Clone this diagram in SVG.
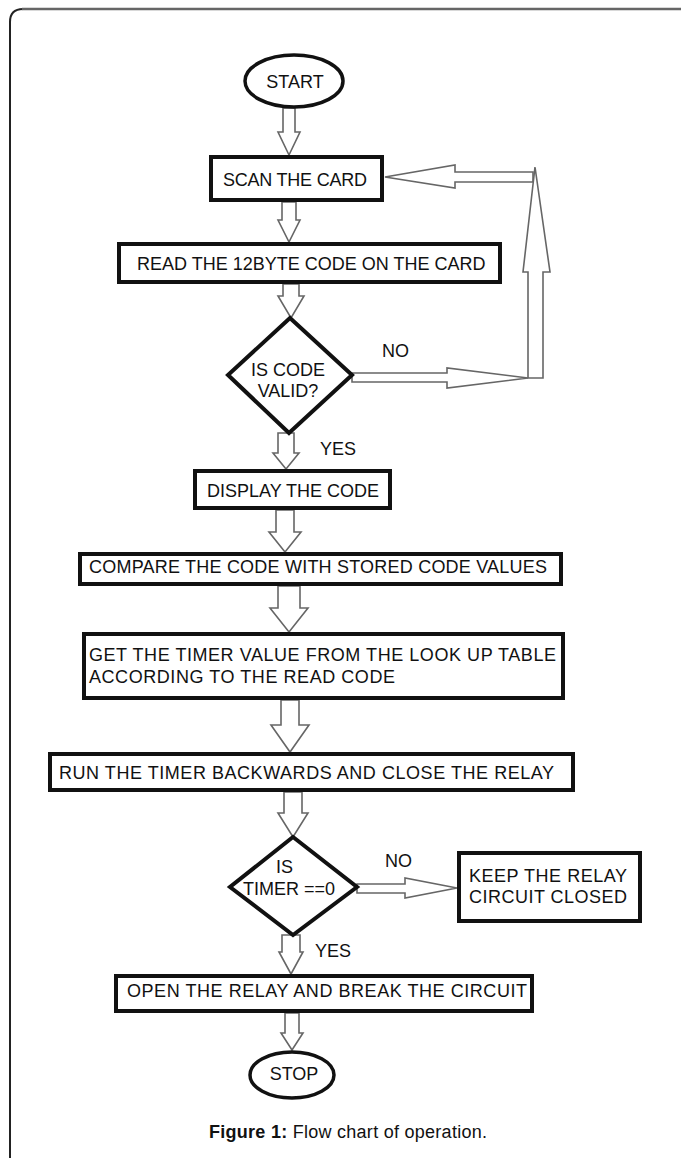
<svg xmlns="http://www.w3.org/2000/svg" width="681" height="1158" viewBox="0 0 681 1158">
<style>
.box{fill:#fff;stroke:#111;stroke-width:4}
.term{fill:#fff;stroke:#111;stroke-width:3.5}
.arr{fill:#fff;stroke:#666;stroke-width:1.6;stroke-linejoin:miter}
.t{font-family:"Liberation Sans",Arial,sans-serif;font-size:18px;fill:#111}
.c{text-anchor:middle}
</style>
<rect width="681" height="1158" fill="#fff"/>
<g id="frame">
<path d="M10,1158 V22 Q10,9 23,9" fill="none" stroke="#222" stroke-width="2"/>
<path d="M22,9 H681" fill="none" stroke="#666" stroke-width="2.5"/>
</g>
<g id="connectors">
<polygon class="arr" points="283,108 295,108 295,132 300,132 289,155 278,132 283,132"/>
<polygon class="arr" points="282,202 296,202 296,220 300,220 289,242 278,220 282,220"/>
<polygon class="arr" points="283,284 299,284 299,296 304,296 291,318 278,296 283,296"/>
<polygon class="arr" points="278,433 294,433 294,453 299,453 286,469 273,453 278,453"/>
<polygon class="arr" points="276,510 294,510 294,532 301,532 285,552 269,532 276,532"/>
<polygon class="arr" points="278,586 300,586 300,608 308,608 289,632 270,608 278,608"/>
<polygon class="arr" points="281,700 299,700 299,725 309,725 290,752 271,725 281,725"/>
<polygon class="arr" points="284,792 302,792 302,813 308,813 293,837 278,813 284,813"/>
<polygon class="arr" points="282,935 300,935 300,952 303,952 291,974 279,952 282,952"/>
<polygon class="arr" points="285,1013 299,1013 299,1033 303,1033 292,1050 281,1033 285,1033"/>
<polygon class="arr" points="533,172 455,172 455,165 385,177 455,188 455,182 533,182"/>
<polygon class="arr" points="528,378 528,272 523,272 535,167 550,272 543,272 543,378"/>
<polygon class="arr" points="352,373 447,373 447,368 528,378 447,388 447,382 352,382"/>
<polygon class="arr" points="357,884 405,884 405,878 457,888 405,898 405,893 357,893"/>
</g>
<g id="start">
<ellipse class="term" cx="294" cy="81" rx="49" ry="26"/>
<text class="t c" x="295" y="88">START</text>
</g>
<g id="scan">
<rect class="box" x="211" y="157" width="171" height="43"/>
<text class="t" x="223" y="186" textLength="144">SCAN THE CARD</text>
</g>
<g id="read">
<rect class="box" x="119" y="244" width="381" height="38"/>
<text class="t" x="137" y="270">READ THE 12BYTE CODE ON THE CARD</text>
</g>
<g id="valid">
<polygon class="box" points="290,318 352,375 289,433 228,375"/>
<text class="t c" x="288" y="376">IS CODE</text>
<text class="t c" x="288" y="397">VALID?</text>
</g>
<g id="labels">
<text class="t" x="382" y="357">NO</text>
<text class="t" x="320" y="455">YES</text>
<text class="t" x="385" y="867">NO</text>
<text class="t" x="315" y="957">YES</text>
</g>
<g id="display">
<rect class="box" x="195" y="471" width="195" height="37"/>
<text class="t" x="207" y="497">DISPLAY THE CODE</text>
</g>
<g id="compare">
<rect class="box" x="80" y="554" width="481" height="30"/>
<text class="t" x="89" y="573" textLength="458">COMPARE THE CODE WITH STORED CODE VALUES</text>
</g>
<g id="get">
<rect class="box" x="84" y="634" width="479" height="64"/>
<text class="t" x="89" y="661" textLength="467">GET THE TIMER VALUE FROM THE LOOK UP TABLE</text>
<text class="t" x="89" y="683" textLength="306">ACCORDING TO THE READ CODE</text>
</g>
<g id="run">
<rect class="box" x="50" y="754" width="523" height="36"/>
<text class="t" x="59" y="779" textLength="495">RUN THE TIMER BACKWARDS AND CLOSE THE RELAY</text>
</g>
<g id="timer">
<polygon class="box" points="293,837 357,887 293,935 230,887"/>
<text class="t" x="276" y="873">IS</text>
<text class="t" x="243" y="895">TIMER ==0</text>
</g>
<g id="keep">
<rect class="box" x="459" y="853" width="181" height="68"/>
<text class="t" x="469" y="882" textLength="158">KEEP THE RELAY</text>
<text class="t" x="469" y="903" textLength="158">CIRCUIT CLOSED</text>
</g>
<g id="open">
<rect class="box" x="116" y="976" width="416" height="35"/>
<text class="t" x="127" y="997" textLength="400">OPEN THE RELAY AND BREAK THE CIRCUIT</text>
</g>
<g id="stop">
<ellipse class="term" cx="292" cy="1075" rx="42" ry="23"/>
<text class="t c" x="294" y="1080">STOP</text>
</g>
<g id="caption">
<text class="t" x="209" y="1138" textLength="278"><tspan font-weight="bold">Figure 1:</tspan> Flow chart of operation.</text>
</g>
</svg>
